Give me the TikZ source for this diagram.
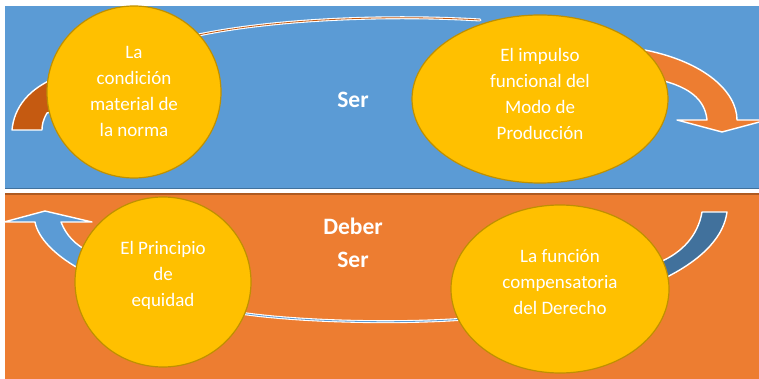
\documentclass[tikz,border=0pt]{standalone}
\usepackage{fontspec}
\setmainfont{Carlito}
\usetikzlibrary{shapes.geometric}
\definecolor{serblue}{HTML}{5B9BD5}
\definecolor{serblueedge}{HTML}{41719C}
\definecolor{deberorange}{HTML}{ED7D31}
\definecolor{deberedge}{HTML}{AE5A21}
\definecolor{tailbrown}{HTML}{C55A11}
\definecolor{bubblefill}{HTML}{FFC000}
\definecolor{bubbleedge}{HTML}{BF9000}
\tikzset{
  bubble/.style={ellipse, fill=bubblefill, draw=bubbleedge, line width=1.2pt,
    inner sep=0pt},
  bubbletext/.style={text=white, align=center, inner sep=0pt,
    font=\fontsize{19}{26}\selectfont},
  heading/.style={text=white, align=center, font=\fontsize{23.5}{33}\selectfont\bfseries},
  bandshape/.style={draw=white, line width=1.4pt, line join=round},
  thinband/.style={draw=white, line width=3pt, line cap=round},
  thincore/.style={line width=0.8pt, line cap=round}
}
\begin{document}
\begin{tikzpicture}[x=1pt,y=-1pt]
\useasboundingbox (0,0) rectangle (759,379);
\clip (0,0) rectangle (759,379);
\fill[white] (0,0) rectangle (759,379);

% the two bands: "Ser" above, "Deber Ser" below
\fill[serblue] (5,6) rectangle (760,189);
\draw[serblueedge, line width=1.5pt] (5,188.5) -- (760,188.5);
\fill[deberorange] (5,193) rectangle (760,380);
\draw[deberedge, line width=1.5pt] (5,193.8) -- (760,193.8);

% upper curved arrow: tail, thin back arc and head
\fill[tailbrown, bandshape] (12,130) .. controls (14,108) and (28,88) .. (60,76)
  -- (60,110) -- (47,113) .. controls (43,120) and (42,125) .. (42,130) -- cycle;
\draw[thinband] (185,38) .. controls (260,20) and (380,14) .. (480,20);
\draw[thincore, tailbrown] (185,38) .. controls (260,20) and (380,14) .. (480,20);
\fill[deberorange, bandshape] (645,50) .. controls (705,62) and (737,92) .. (737,120)
  -- (767,120) -- (722,132) -- (677,120) -- (707,120)
  .. controls (705,100) and (690,85) .. (650,78) -- cycle;

% lower curved arrow: tail, thin back arc and head
\fill[serblueedge, bandshape] (702,212) -- (727,212)
  .. controls (724,235) and (705,258) .. (665,278) -- (660,262)
  .. controls (683,252) and (698,235) .. (702,212) -- cycle;
\draw[thinband] (240,313) .. controls (300,322) and (400,324) .. (465,319);
\draw[thincore, serblue] (240,313) .. controls (300,322) and (400,324) .. (465,319);
\fill[serblue, bandshape] (45,211) -- (92,222) -- (61,222)
  .. controls (66,235) and (75,245) .. (90,252) -- (88,275) -- (78,268)
  .. controls (55,255) and (38,238) .. (35,222) -- (4,222) -- cycle;

% the four ideas
\node[bubble, minimum width=174pt, minimum height=172pt] (norma) at (134,92) {};
\node[bubble, minimum width=256pt, minimum height=168pt] (modo) at (540,99) {};
\node[bubble, minimum width=176pt, minimum height=170pt] (equidad) at (163,282) {};
\node[bubble, minimum width=218pt, minimum height=168pt] (derecho) at (560,289) {};

\node[bubbletext] (normaText) at ([yshift=0.5pt]norma.center)
  {La\\condición\\material de\\la norma};
\node[bubbletext] (modoText) at ([yshift=5.5pt]modo.center)
  {El impulso\\funcional del\\Modo de\\Producción};
\node[bubbletext] (equidadText) at ([yshift=6.5pt]equidad.center)
  {El Principio\\de\\equidad};
\node[bubbletext] (derechoText) at ([yshift=6.5pt]derecho.center)
  {La función\\compensatoria\\del Derecho};

% band headings
\node[heading] (ser) at (353,100) {Ser};
\node[heading] (deber) at (353,243) {Deber\\Ser};
\end{tikzpicture}
\end{document}
